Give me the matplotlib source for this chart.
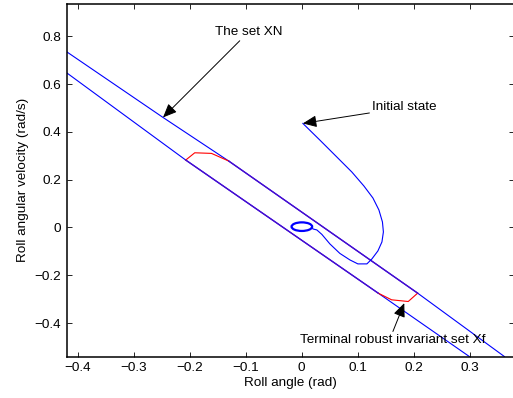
import matplotlib
matplotlib.use("Agg")
import matplotlib.pyplot as plt
from matplotlib.patches import Ellipse

plt.rcParams['font.family'] = ['Liberation Sans', 'DejaVu Sans']

# XN boundary lines
xn_upper_x = [-0.42, -0.2479, -0.1304, 0.2071, 0.362]
xn_upper_y = [0.735, 0.4603, 0.2778, -0.2749, -0.54]
xn_lower_x = [-0.42, -0.2073, 0.1366, 0.2994]
xn_lower_y = [0.647, 0.2820, -0.2749, -0.54]

# Terminal set Xf vertices
xf_x = [-0.2073, -0.1912, -0.1613, -0.1304, 0.2071, 0.1903, 0.1606, 0.1366]
xf_y = [0.2820, 0.3124, 0.3099, 0.2778, -0.2749, -0.3099, -0.3028, -0.2749]

# Closed-loop trajectory
traj_x = [0.0020, 0.0324, 0.0628, 0.0896, 0.1111, 0.1272, 0.1379, 0.1442, 0.1459,
          0.1433, 0.1361, 0.1254, 0.1164, 0.1003, 0.0860, 0.0681, 0.0503, 0.0360,
          0.0270, 0.0199, 0.0184]
traj_y = [0.4353, 0.3655, 0.2945, 0.2318, 0.1734, 0.1232, 0.0731, 0.0230, -0.0188,
          -0.0606, -0.0982, -0.1316, -0.1525, -0.1525, -0.1358, -0.1086, -0.0689,
          -0.0292, -0.0104, -0.0063, 0.0033]

# Limit cycle near origin
cycle_center = (0.0002, 0.0033)
cycle_width = 0.0368
cycle_height = 0.036

x_ticks = [-0.4, -0.3, -0.2, -0.1, 0, 0.1, 0.2, 0.3]
y_ticks = [-0.4, -0.2, 0, 0.2, 0.4, 0.6, 0.8]

fig = plt.figure(figsize=(5.13, 3.98), dpi=100)
ax = fig.add_axes([66.7/513, 1 - 356.5/398, (514.4 - 66.7)/513, (356.5 - 4)/398])

blue = '#0000ff'
purple = '#4a0ccc'
red = '#ff0000'

ax.plot(xn_upper_x, xn_upper_y, color=blue, lw=0.8)
ax.plot(xn_lower_x, xn_lower_y, color=blue, lw=0.8)

# Xf: red parts and overlapping (purple) parts
ax.plot(xf_x[0:4], xf_y[0:4], color=red, lw=0.8)
ax.plot(xf_x[4:8], xf_y[4:8], color=red, lw=0.8)
ax.plot([xf_x[3], xf_x[4]], [xf_y[3], xf_y[4]], color=purple, lw=1.0)
ax.plot([xf_x[7], xf_x[0]], [xf_y[7], xf_y[0]], color=purple, lw=1.0)

ax.plot(traj_x, traj_y, color=blue, lw=0.8)
ax.add_patch(Ellipse(cycle_center, cycle_width, cycle_height, fill=False,
                     edgecolor=blue, lw=1.6))

ax.set_xlim(-0.42, 0.38)
ax.set_ylim(-0.54, 0.935)
ax.set_xticks(x_ticks)
ax.set_yticks(y_ticks)
ax.set_xticklabels(['\u22120.4', '\u22120.3', '\u22120.2', '\u22120.1', '0', '0.1', '0.2', '0.3'])
ax.set_yticklabels(['\u22120.4', '\u22120.2', '0', '0.2', '0.4', '0.6', '0.8'])
ax.tick_params(direction='in', length=3.5, width=0.6, top=True, right=True,
               labelsize=9.7, pad=4)
for s in ax.spines.values():
    s.set_linewidth(1.1)

ax.set_xlabel('Roll angle (rad)', fontsize=9.7, labelpad=2)
ax.set_ylabel('Roll angular velocity (rad/s)', fontsize=9.7, labelpad=4)

arrow = dict(arrowstyle='-|>,head_length=0.7,head_width=0.3', color='black',
             lw=0.7, shrinkA=0, shrinkB=0, mutation_scale=12)
ax.annotate('The set XN', xy=(-0.2479, 0.4603), xytext=(-0.1554, 0.8179),
            fontsize=9.7, va='center', ha='left', arrowprops=arrow)
ax.annotate('Initial state', xy=(0.0020, 0.4353), xytext=(0.1259, 0.502),
            fontsize=9.7, va='center', ha='left', arrowprops=arrow)
ax.annotate('', xy=(0.1832, -0.3166), xytext=(0.1629, -0.4353), arrowprops=arrow)
ax.text(-0.0039, -0.470, 'Terminal robust invariant set Xf', fontsize=9.7,
        va='center', ha='left')

fig.savefig('out.png', dpi=100)
